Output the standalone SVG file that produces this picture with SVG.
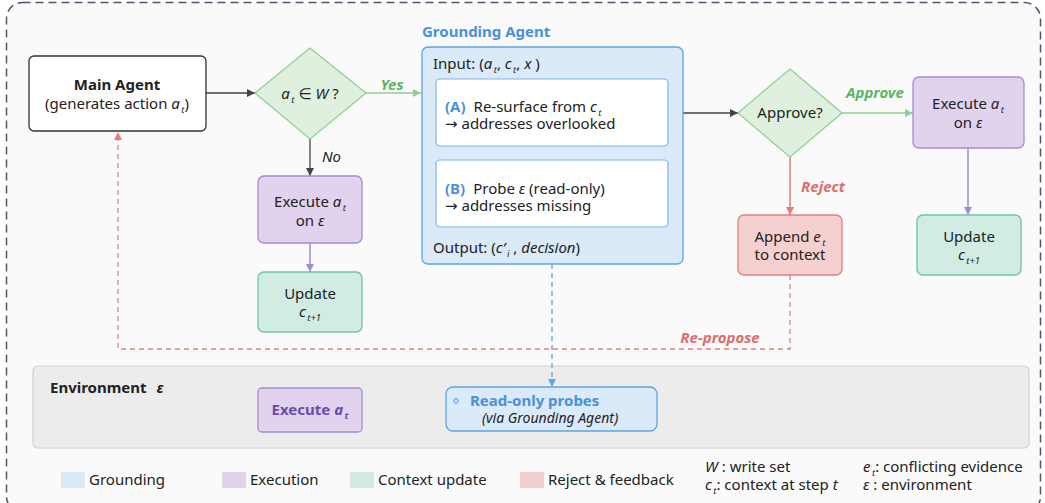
<svg xmlns="http://www.w3.org/2000/svg" width="1045" height="503" viewBox="0 0 1045 503">
<defs>
<style>
text{font-family:"Noto Sans","DejaVu Sans",sans-serif;font-size:15px;fill:#222;}
.c{text-anchor:middle;}
.b{font-weight:bold;}
.i{font-style:italic;}
.sub{font-size:9.5px;font-style:italic;}
.lab{font-weight:bold;font-style:italic;font-size:15px;}
.green{fill:#e0f0df;stroke:#8fcf96;stroke-width:1.3;}
.purple{fill:#e1d2ee;stroke:#a68ad2;stroke-width:1.3;}
.teal{fill:#d0ece3;stroke:#6cc3ad;stroke-width:1.3;}
.red{fill:#f5d0d0;stroke:#e27d7d;stroke-width:1.3;}
.blue{fill:#daeaf8;stroke:#5fa4e4;stroke-width:1.3;}
.white{fill:#fff;stroke:#7fb4ea;stroke-width:1.2;}
</style>
<marker id="ahDark" viewBox="0 0 10 10" refX="10" refY="5" markerWidth="8" markerHeight="8" markerUnits="userSpaceOnUse" orient="auto"><path d="M0,0 L10,5 L0,10 z" fill="#444"/></marker>
<marker id="ahGreen" viewBox="0 0 10 10" refX="10" refY="5" markerWidth="8" markerHeight="8" markerUnits="userSpaceOnUse" orient="auto"><path d="M0,0 L10,5 L0,10 z" fill="#8fd096"/></marker>
<marker id="ahPurple" viewBox="0 0 10 10" refX="10" refY="5" markerWidth="8" markerHeight="8" markerUnits="userSpaceOnUse" orient="auto"><path d="M0,0 L10,5 L0,10 z" fill="#a68ad2"/></marker>
<marker id="ahRed" viewBox="0 0 10 10" refX="10" refY="5" markerWidth="8" markerHeight="8" markerUnits="userSpaceOnUse" orient="auto"><path d="M0,0 L10,5 L0,10 z" fill="#e27d7d"/></marker>
<marker id="ahBlue" viewBox="0 0 10 10" refX="10" refY="5" markerWidth="8" markerHeight="8" markerUnits="userSpaceOnUse" orient="auto"><path d="M0,0 L10,5 L0,10 z" fill="#5fa4e4"/></marker>
</defs>

<rect x="0" y="0" width="1045" height="503" fill="#ffffff"/>
<rect id="frame" x="6.5" y="2.5" width="1034" height="510" rx="16" fill="#fafafa" stroke="#4a5a6c" stroke-width="1.5" stroke-dasharray="8 5"/>

<g id="environment">
<rect x="33" y="366" width="996" height="82" rx="5" fill="#ececec" stroke="#cfcfcf" stroke-width="1.2"/>
<text x="50" y="393" class="b">Environment <tspan class="i" dx="6">ε</tspan></text>
</g>

<g id="connectors" fill="none">
<line x1="206" y1="93" x2="255" y2="93" stroke="#444" stroke-width="1.3" marker-end="url(#ahDark)"/>
<line x1="366" y1="93" x2="421" y2="93" stroke="#8fd096" stroke-width="1.5" marker-end="url(#ahGreen)"/>
<line x1="310" y1="139" x2="310" y2="176" stroke="#444" stroke-width="1.3" marker-end="url(#ahDark)"/>
<line x1="310" y1="243" x2="310" y2="272" stroke="#a68ad2" stroke-width="1.5" marker-end="url(#ahPurple)"/>
<line x1="683" y1="113" x2="738" y2="113" stroke="#444" stroke-width="1.3" marker-end="url(#ahDark)"/>
<line x1="842" y1="113" x2="913" y2="113" stroke="#8fd096" stroke-width="1.5" marker-end="url(#ahGreen)"/>
<line x1="968" y1="148" x2="968" y2="215" stroke="#a68ad2" stroke-width="1.5" marker-end="url(#ahPurple)"/>
<line x1="790" y1="157" x2="790" y2="215" stroke="#e27d7d" stroke-width="1.5" marker-end="url(#ahRed)"/>
<path d="M790,275 L790,349 L118,349 L118,132" stroke="#e27d7d" stroke-width="1.3" stroke-dasharray="5 4" marker-end="url(#ahRed)"/>
<line x1="552" y1="264" x2="552" y2="387" stroke="#5fa4e4" stroke-width="1.3" stroke-dasharray="5 4" marker-end="url(#ahBlue)"/>
<text x="392" y="90" class="lab c" style="fill:#5cb562">Yes</text>
<text x="322" y="162" class="i">No</text>
<text x="875" y="98" class="lab c" style="fill:#5cb562">Approve</text>
<text x="823" y="192" class="lab c" style="fill:#e06d6d">Reject</text>
<text x="720" y="343" class="lab c" style="fill:#e06d6d">Re-propose</text>
</g>

<g id="main-agent">
<rect x="29" y="56" width="177" height="75" rx="5" fill="#fff" stroke="#333" stroke-width="1.3"/>
<text x="117" y="90" class="b c">Main Agent</text>
<text x="117" y="109" class="c">(generates action <tspan class="i">a</tspan><tspan class="sub" dx="1.5" dy="4">t</tspan><tspan dy="-4">)</tspan></text>
</g>

<g id="decision-write">
<polygon points="310,48 366,93 310,139 255,93" class="green"/>
<text x="310" y="99" class="c"><tspan class="i">a</tspan><tspan class="sub" dx="1.5" dy="4">t</tspan><tspan dy="-4"> ∈ </tspan><tspan class="i">W</tspan> ?</text>
</g>

<g id="execute-left">
<rect x="258" y="176" width="104" height="67" rx="6" class="purple"/>
<text x="310" y="207" class="c">Execute <tspan class="i">a</tspan><tspan class="sub" dx="1.5" dy="4">t</tspan></text>
<text x="310" y="226" class="c">on <tspan class="i">ε</tspan></text>
</g>

<g id="update-left">
<rect x="258" y="272" width="104" height="60" rx="6" class="teal"/>
<text x="310" y="299" class="c">Update</text>
<text x="310" y="317" class="c"><tspan class="i">c</tspan><tspan class="sub" dx="1.5" dy="4">t+1</tspan></text>
</g>

<g id="grounding-agent">
<text x="422" y="37" class="b" style="fill:#4a90dc;font-size:15px">Grounding Agent</text>
<rect x="422" y="47" width="261" height="217" rx="6" class="blue"/>
<text x="433" y="69">Input: (<tspan class="i">a</tspan><tspan class="sub" dx="1.5" dy="4">t</tspan><tspan dy="-4">, </tspan><tspan class="i">c</tspan><tspan class="sub" dx="1.5" dy="4">t</tspan><tspan dy="-4">, </tspan><tspan class="i">x</tspan> )</text>
<rect x="436" y="79" width="232" height="67" rx="4" class="white"/>
<text x="445" y="112"><tspan class="b" style="fill:#4a90dc">(A)</tspan><tspan dx="8">Re-surface from </tspan><tspan class="i">c</tspan><tspan class="sub" dx="1.5" dy="4">t</tspan></text>
<text x="445" y="129">→ addresses overlooked</text>
<rect x="436" y="160" width="232" height="67" rx="4" class="white"/>
<text x="445" y="194"><tspan class="b" style="fill:#4a90dc">(B)</tspan><tspan dx="8">Probe </tspan><tspan class="i">ε</tspan> (read-only)</text>
<text x="445" y="211">→ addresses missing</text>
<text x="433" y="253">Output: (<tspan class="i">c’</tspan><tspan class="sub" dx="1.5" dy="4">i</tspan><tspan dy="-4"> , </tspan><tspan class="i">decision</tspan>)</text>
</g>

<g id="decision-approve">
<polygon points="790,69 842,113 790,157 738,113" class="green"/>
<text x="790" y="118" class="c">Approve?</text>
</g>

<g id="execute-right">
<rect x="913" y="77" width="111" height="71" rx="6" class="purple"/>
<text x="968" y="109" class="c">Execute <tspan class="i">a</tspan><tspan class="sub" dx="1.5" dy="4">t</tspan></text>
<text x="968" y="128" class="c">on <tspan class="i">ε</tspan></text>
</g>

<g id="update-right">
<rect x="917" y="215" width="104" height="60" rx="6" class="teal"/>
<text x="969" y="242" class="c">Update</text>
<text x="969" y="260" class="c"><tspan class="i">c</tspan><tspan class="sub" dx="1.5" dy="4">t+1</tspan></text>
</g>

<g id="append">
<rect x="738" y="215" width="104" height="60" rx="6" class="red"/>
<text x="790" y="242" class="c">Append <tspan class="i">e</tspan><tspan class="sub" dx="1.5" dy="4">t</tspan></text>
<text x="790" y="260" class="c">to context</text>
</g>

<g id="env-execute">
<rect x="258" y="388" width="104" height="44" rx="4" class="purple"/>
<text x="310" y="415" class="c b" style="fill:#6b4bad">Execute <tspan class="i">a</tspan><tspan class="sub" dx="1.5" dy="4">t</tspan></text>
</g>

<g id="env-probes">
<rect x="446" y="387" width="211" height="44" rx="7" class="blue"/>
<circle cx="456" cy="401" r="2.2" fill="none" stroke="#4a90dc" stroke-width="1"/>
<text x="470" y="406" class="b" style="fill:#4a90dc">Read-only probes</text>
<text x="482" y="423" class="i" style="font-size:14px">(via Grounding Agent)</text>
</g>

<g id="legend">
<rect x="61" y="472" width="24" height="16" fill="#dbe9f7"/>
<text x="89" y="485">Grounding</text>
<rect x="222" y="472" width="24" height="16" fill="#e1d2ee"/>
<text x="250" y="485">Execution</text>
<rect x="350" y="472" width="24" height="16" fill="#cfeade"/>
<text x="378" y="485">Context update</text>
<rect x="520" y="472" width="24" height="16" fill="#f4cfcf"/>
<text x="548" y="485">Reject &amp; feedback</text>
<text x="705" y="472"><tspan class="i">W</tspan> : write set</text>
<text x="705" y="490"><tspan class="i">c</tspan><tspan class="sub" dx="1.5" dy="4">t</tspan><tspan dy="-4">: context at step </tspan><tspan class="i">t</tspan></text>
<text x="863" y="472"><tspan class="i">e</tspan><tspan class="sub" dx="1.5" dy="4">t</tspan><tspan dy="-4">: conflicting evidence</tspan></text>
<text x="863" y="490"><tspan class="i">ε</tspan> : environment</text>
</g>
</svg>
